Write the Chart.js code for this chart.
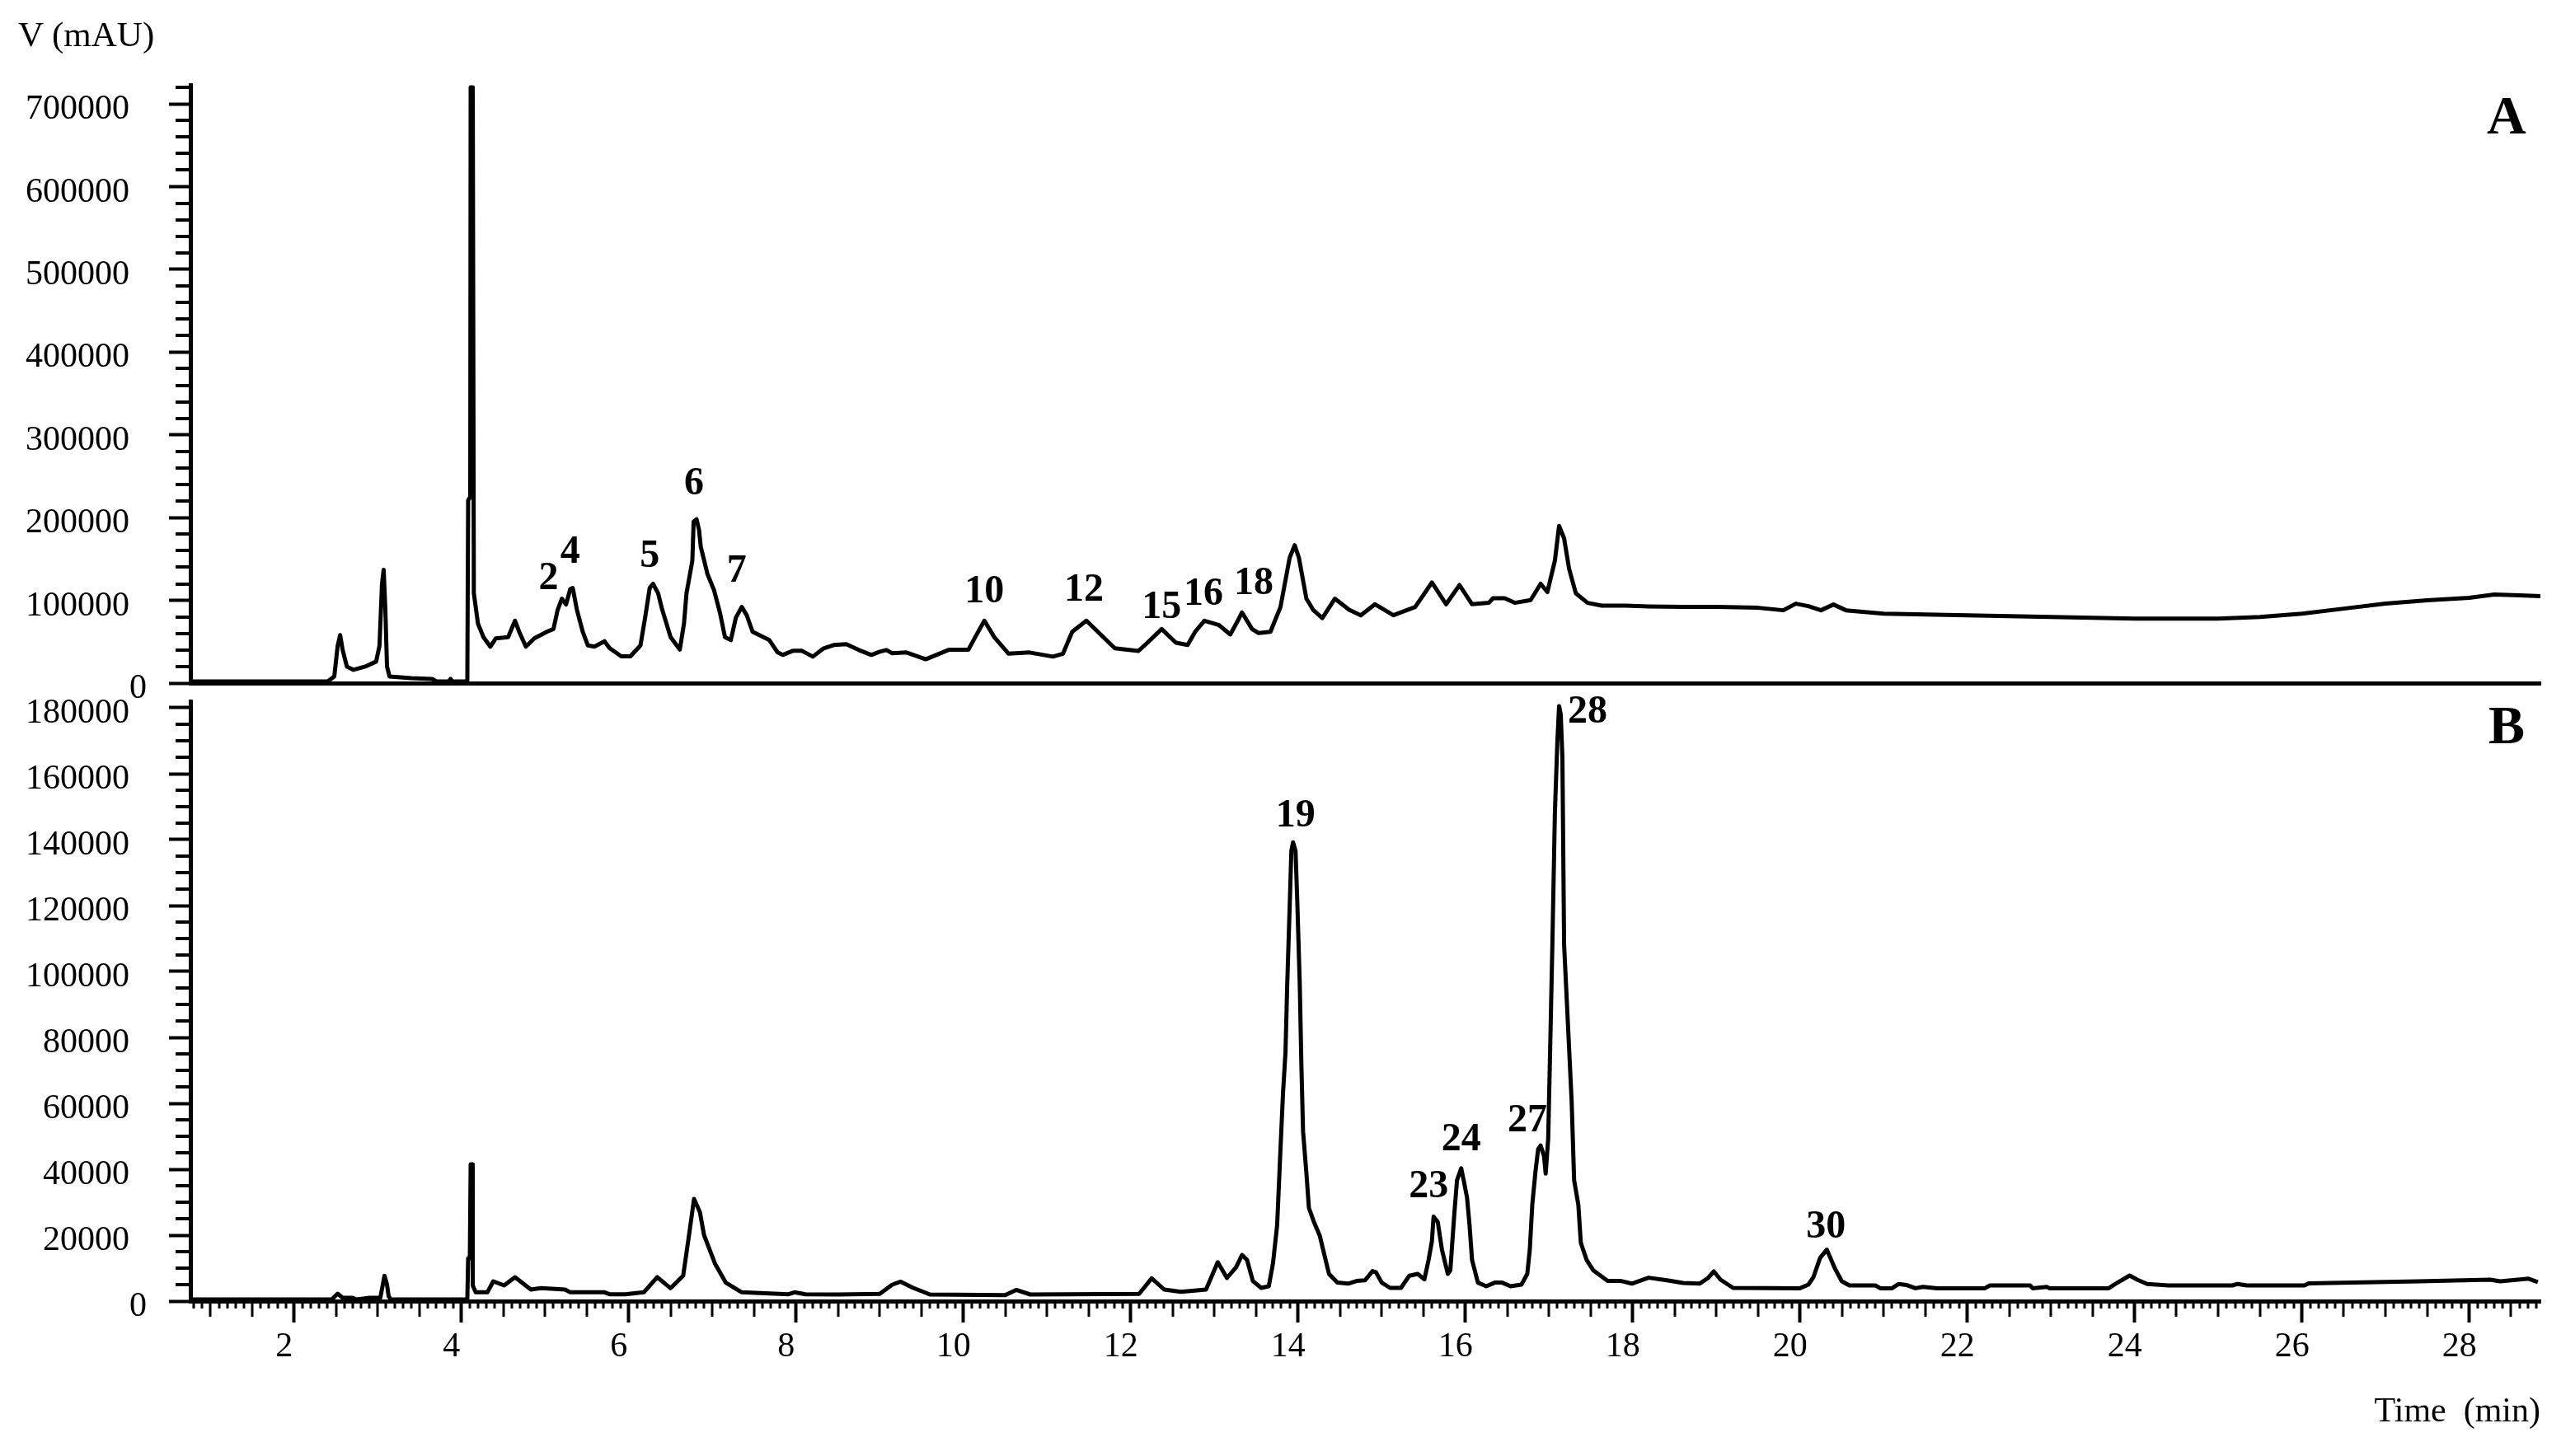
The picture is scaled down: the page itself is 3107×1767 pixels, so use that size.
<!DOCTYPE html>
<html>
<head>
<meta charset="utf-8">
<title>HPLC chromatograms A and B</title>
<script src="https://cdn.jsdelivr.net/npm/chart.js@4.4.1/dist/chart.umd.min.js"></script>
<style>
  html, body { margin: 0; padding: 0; background: #fff; }
  #page { position: relative; width: 3107px; height: 1767px; overflow: hidden; background: #fff; }
  #page canvas { position: absolute; left: 0; }
  #chartA { top: 0; }
  #chartB { top: 800px; }
  .txt { position: absolute; line-height: 1; white-space: pre; color: #000;
         font-family: "Liberation Serif", "Times New Roman", serif; }
  #yTitle { left: 22px; top: 20px; font-size: 43px; }
  .panel { font-size: 66px; font-weight: bold; }
  #panelA { left: 3017px; top: 107px; }
  #panelB { left: 3019px; top: 847px; }
</style>
</head>
<body>
<div id="page">
  <canvas id="chartA" width="3107" height="870"></canvas>
  <canvas id="chartB" width="3107" height="967"></canvas>
  <div class="txt" id="yTitle">V (mAU)</div>
  <div class="txt panel" id="panelA">A</div>
  <div class="txt panel" id="panelB">B</div>
</div>
<script>
// retention time window (min)
const timeMin = 0.76;
const timeMax = 28.85;

// trace A (upper chromatogram)
const timesA = [
  0.76, 2.40, 2.48, 2.52, 2.55, 2.58, 2.63, 2.71, 2.85, 2.98, 3.02, 3.05, 3.07, 3.09, 3.11, 3.14,
  3.40, 3.65, 3.70, 3.85, 3.87, 3.89, 4.07, 4.08, 4.105, 4.11, 4.135, 4.148, 4.197, 4.263, 4.345,
  4.41, 4.558, 4.64, 4.69, 4.77, 4.87, 5.02, 5.10, 5.15, 5.20, 5.25, 5.30, 5.33, 5.38, 5.45, 5.51,
  5.59, 5.71, 5.77, 5.91, 6.02, 6.14, 6.20, 6.25, 6.29, 6.35, 6.40, 6.50, 6.61, 6.66, 6.69, 6.76,
  6.775, 6.81, 6.84, 6.86, 6.94, 7.02, 7.09, 7.15, 7.22, 7.28, 7.35, 7.41, 7.48, 7.58, 7.68, 7.78,
  7.84, 7.96, 8.07, 8.20, 8.33, 8.45, 8.60, 8.75, 8.90, 9.00, 9.08, 9.15, 9.32, 9.55, 9.83, 10.06,
  10.14, 10.25, 10.37, 10.54, 10.79, 11.07, 11.19, 11.30, 11.47, 11.64, 11.81, 12.09, 12.20, 12.37,
  12.54, 12.68, 12.77, 12.88, 13.05, 13.19, 13.28, 13.33, 13.45, 13.53, 13.67, 13.79, 13.90, 13.96,
  14.01, 14.10, 14.18, 14.29, 14.44, 14.61, 14.75, 14.92, 15.14, 15.40, 15.60, 15.77, 15.93, 16.08,
  16.28, 16.33, 16.47, 16.59, 16.78, 16.90, 16.98, 17.07, 17.12, 17.18, 17.24, 17.32, 17.46, 17.63,
  17.91, 18.19, 18.60, 19.00, 19.50, 19.80, 19.95, 20.10, 20.25, 20.40, 20.55, 21.00, 22.00, 23.00,
  24.00, 25.00, 25.50, 26.00, 26.50, 27.00, 27.50, 28.00, 28.30, 28.60, 28.85
];
const valuesA = [
  2000, 2000, 8000, 45000, 58000, 40000, 20000, 16000, 20000, 26000, 45000, 120000, 137000, 90000, 20000, 8000,
  6000, 5000, 2000, 2000, 5000, 2000, 2000, 221000, 225000, 720000, 720000, 108600, 72000, 55500, 44000,
  54000, 55500, 75400, 62000, 44000, 54000, 62000, 65400, 88600, 102000, 95000, 113500, 115000, 88600, 62000, 45600,
  44000, 50600, 42300, 32400, 32400, 45600, 82000, 115000, 120000, 108600, 88600, 55500, 40500, 72000, 108600, 148000,
  195000, 198000, 185000, 165000, 132000, 112000, 85000, 55500, 52000, 79000, 92000, 82000, 62000, 57000, 52000, 37000,
  34000, 39000, 39000, 32000, 42000, 46000, 47000, 40000, 34000, 38000, 40000, 36000, 37000, 28800, 40400, 40400,
  55400, 75400, 55400, 35500, 37000, 32000, 35500, 62000, 75400, 58800, 42000, 38800, 48800, 65400,
  48800, 46000, 62000, 75400, 70400, 58800, 75400, 85400, 65400, 60400, 62000, 92000, 151600, 166600,
  151600, 102000, 88600, 78600, 102000, 88600, 82000, 95300, 82000, 92000, 121500, 95300, 118500, 95300,
  97000, 102600, 102600, 97000, 100300, 120000, 110000, 148000, 190000, 175000, 138000, 108600, 97000, 93600,
  93600, 92600, 92000, 92000, 91000, 88000, 96000, 93000, 88000, 95000, 88000, 84000, 82000, 80000,
  78000, 78000, 80000, 84000, 90000, 96000, 100000, 103000, 107000, 106000, 105000
];

// trace B (lower chromatogram)
const timesB = [
  0.76, 2.45, 2.52, 2.58, 2.70, 2.75, 2.90, 3.03, 3.06, 3.08, 3.11, 3.13, 3.16, 4.07, 4.08, 4.10,
  4.11, 4.13, 4.135, 4.17, 4.31, 4.38, 4.51, 4.64, 4.83, 4.95, 5.24, 5.30, 5.71, 5.77, 5.96, 6.18,
  6.34, 6.50, 6.65, 6.72, 6.78, 6.85, 6.90, 7.03, 7.16, 7.35, 7.91, 7.98, 8.11, 8.50, 9.00, 9.15,
  9.25, 9.40, 9.60, 10.50, 10.63, 10.80, 12.10, 12.25, 12.40, 12.60, 12.90, 13.04, 13.15, 13.26,
  13.33, 13.39, 13.46, 13.56, 13.65, 13.70, 13.75, 13.79, 13.82, 13.85, 13.87, 13.90, 13.92, 13.94,
  13.97, 13.99, 14.02, 14.04, 14.06, 14.10, 14.13, 14.19, 14.26, 14.31, 14.37, 14.47, 14.60, 14.70,
  14.80, 14.89, 14.93, 15.00, 15.10, 15.23, 15.33, 15.43, 15.51, 15.56, 15.60, 15.62, 15.67, 15.72,
  15.79, 15.82, 15.87, 15.90, 15.95, 15.98, 16.02, 16.05, 16.08, 16.15, 16.25, 16.35, 16.44, 16.54,
  16.67, 16.74, 16.77, 16.80, 16.84, 16.87, 16.90, 16.94, 16.96, 16.99, 17.01, 17.04, 17.07, 17.10,
  17.12, 17.14, 17.16, 17.18, 17.23, 17.27, 17.30, 17.35, 17.38, 17.45, 17.53, 17.70, 17.86, 17.99,
  18.19, 18.41, 18.60, 18.80, 18.90, 18.97, 19.05, 19.20, 20.00, 20.10, 20.16, 20.24, 20.32, 20.42,
  20.50, 20.59, 20.90, 20.96, 21.10, 21.18, 21.27, 21.38, 21.47, 21.64, 22.21, 22.27, 22.75, 22.78,
  22.95, 22.98, 23.69, 23.77, 23.94, 24.03, 24.15, 24.40, 25.17, 25.23, 25.34, 26.03, 26.08, 27.40,
  28.25, 28.37, 28.71, 28.82
];
const valuesB = [
  500, 500, 2250, 1000, 1000, 500, 1000, 1000, 5000, 7700, 5000, 1400, 500, 500, 13000, 13000,
  41500, 41500, 4750, 2670, 2670, 6000, 4750, 7250, 3500, 3920, 3500, 2670, 2670, 2080, 2080, 2670,
  7250, 3920, 7670, 20000, 31000, 27000, 20000, 11400, 5580, 2670, 2080, 2670, 2080, 2000, 2200, 5000,
  5900, 4000, 2000, 1800, 3400, 2000, 2200, 6900, 3500, 2800, 3500, 11800, 7000, 10300,
  14000, 12500, 6100, 4000, 4500, 11400, 23000, 46100, 63000, 75600, 95600, 119800, 136600, 139200,
  136600, 121900, 96600, 71400, 51400, 38750, 28250, 24000, 19800, 14550, 8250, 5600, 5300, 6100,
  6300, 9100, 8800, 5600, 4000, 4000, 7700, 8250, 6600, 12450, 18200, 25600, 24000, 15600,
  8250, 9300, 27200, 36650, 40300, 36650, 31400, 23000, 12450, 5600, 4500, 5600, 5600, 4500,
  5000, 8250, 15600, 29300, 39800, 46100, 47200, 44000, 38700, 49300, 72400, 108200, 148200, 170000,
  180500, 178000, 165000, 108200, 81900, 60800, 36650, 29300, 17700, 12450, 9300, 6100, 6100, 5300,
  7100, 6300, 5500, 5300, 7000, 9000, 6500, 4000, 3900, 5000, 7250, 13100, 15600, 9750,
  6000, 4750, 4750, 3900, 3900, 5200, 4900, 3900, 4300, 3900, 3900, 4750, 4750, 3900,
  4300, 3900, 3900, 5200, 7750, 6500, 5200, 4750, 4750, 5200, 4750, 4750, 5400, 6000,
  6500, 6000, 6800, 5750
];

// axis ranges and tick values
const yMaxA = 723000, yMinorA = 20000;
const yTicksA = [0, 100000, 200000, 300000, 400000, 500000, 600000, 700000];
const yMaxB = 182000, yMinorB = 5000;
const yTicksB = [0, 20000, 40000, 60000, 80000, 100000, 120000, 140000, 160000, 180000];
const xTicks = [2, 4, 6, 8, 10, 12, 14, 16, 18, 20, 22, 24, 26, 28];

// peak numbers: label, time, height of the label centre
const peakNamesA = ['2', '4', '5', '6', '7', '10', '12', '15', '16', '18'];
const peakTimesA = [5.04, 5.30, 6.25, 6.78, 7.29, 10.25, 11.44, 12.37, 12.87, 13.47];
const peakLevelsA = [125500, 158000, 153000, 240000, 135000, 110000, 112000, 91000, 107000, 120000];
const peakNamesB = ['19', '23', '24', '27', '28', '30'];
const peakTimesB = [13.97, 15.56, 15.95, 16.74, 17.46, 20.31];
const peakLevelsB = [147000, 34500, 48750, 54500, 178500, 22250];

const FONT = '"Liberation Serif", "Times New Roman", serif';

function toPoints(xs, ys) {
  return xs.map((x, i) => ({ x: x, y: ys[i] }));
}

function fixedTicks(values) {
  return function (scale) {
    scale.ticks = values.map(v => ({ value: v }));
  };
}

// minor tick marks that Chart.js does not draw by itself
const minorTicks = {
  id: 'minorTicks',
  afterDraw(chart, args, opts) {
    const ctx = chart.ctx;
    const xs = chart.scales.x, ys = chart.scales.y;
    ctx.save();
    ctx.strokeStyle = '#000';
    ctx.lineCap = 'butt';
    ctx.lineWidth = 4;
    const nY = Math.floor(ys.max / opts.yMinor);
    for (let k = 1; k <= nY; k++) {
      const v = k * opts.yMinor;
      if (opts.majors.includes(v)) continue;
      const p = Math.round(ys.getPixelForValue(v));
      ctx.beginPath();
      ctx.moveTo(ys.right - 18, p);
      ctx.lineTo(ys.right, p);
      ctx.stroke();
    }
    if (opts.xTicks) {
      ctx.lineWidth = 3;
      const k0 = Math.ceil(xs.min * 10), k1 = Math.floor(xs.max * 10);
      for (let k = k0; k <= k1; k++) {
        if (k % 20 === 0) continue;
        const len = (k % 5 === 0) ? 19 : 9;
        const p = Math.round(xs.getPixelForValue(k / 10));
        ctx.beginPath();
        ctx.moveTo(p, xs.top);
        ctx.lineTo(p, xs.top + len);
        ctx.stroke();
      }
    }
    ctx.restore();
  }
};

// bold peak numbers placed in data coordinates
const peakNumbers = {
  id: 'peakNumbers',
  afterDatasetsDraw(chart, args, opts) {
    const ctx = chart.ctx;
    const xs = chart.scales.x, ys = chart.scales.y;
    ctx.save();
    ctx.fillStyle = '#000';
    ctx.font = 'bold 48px ' + FONT;
    ctx.textAlign = 'center';
    ctx.textBaseline = 'middle';
    opts.names.forEach((n, i) => {
      ctx.fillText(n, xs.getPixelForValue(opts.times[i]), ys.getPixelForValue(opts.levels[i]));
    });
    ctx.restore();
  }
};

// the zero label sits a little closer to the axis in the original
function yLabel(v) {
  return v === 0 ? '0' : String(v) + '\u2002';
}

function yAxis(maxV, tickValues) {
  return {
    type: 'linear',
    min: 0,
    max: maxV,
    afterBuildTicks: fixedTicks(tickValues),
    ticks: {
      padding: 27,
      labelOffset: 7,
      color: '#000',
      font: { family: FONT, size: 42 },
      callback: yLabel
    },
    grid: { display: true, drawOnChartArea: false, drawTicks: true, tickLength: 26, tickWidth: 4, tickColor: '#000' },
    border: { display: true, width: 5, color: '#000' },
    afterFit(s) { s.width = 231; s.paddingTop = 0; s.paddingBottom = 0; }
  };
}

function lineSet(xs, ys) {
  return {
    data: toPoints(xs, ys),
    borderColor: '#000',
    borderWidth: 5,
    borderJoinStyle: 'round',
    pointRadius: 0,
    fill: false,
    tension: 0
  };
}

const common = {
  responsive: false,
  devicePixelRatio: 1,
  animation: false,
  events: [],
  parsing: false
};

new Chart(document.getElementById('chartA'), {
  type: 'line',
  data: { datasets: [lineSet(timesA, valuesA)] },
  options: Object.assign({}, common, {
    layout: { padding: { top: 103, right: 25, left: 0, bottom: 0 } },
    scales: {
      x: {
        type: 'linear', min: timeMin, max: timeMax,
        ticks: { display: false },
        grid: { display: false },
        border: { display: true, width: 5, color: '#000' },
        afterFit(s) { s.height = 41; s.paddingLeft = 0; s.paddingRight = 0; }
      },
      y: yAxis(yMaxA, yTicksA)
    },
    plugins: {
      legend: { display: false },
      tooltip: { enabled: false },
      minorTicks: { yMinor: yMinorA, majors: yTicksA, xTicks: false },
      peakNumbers: { names: peakNamesA, times: peakTimesA, levels: peakLevelsA }
    }
  }),
  plugins: [minorTicks, peakNumbers]
});

new Chart(document.getElementById('chartB'), {
  type: 'line',
  data: { datasets: [lineSet(timesB, valuesB)] },
  options: Object.assign({}, common, {
    layout: { padding: { top: 51, right: 25, left: 0, bottom: 0 } },
    scales: {
      x: {
        type: 'linear', min: timeMin, max: timeMax,
        afterBuildTicks: fixedTicks(xTicks),
        ticks: {
          padding: 5,
          labelOffset: -12,
          maxRotation: 0,
          autoSkip: false,
          color: '#000',
          font: { family: FONT, size: 42 },
          callback: v => String(v)
        },
        grid: { display: true, drawOnChartArea: false, drawTicks: true, tickLength: 26, tickWidth: 4, tickColor: '#000' },
        border: { display: true, width: 5, color: '#000' },
        title: {
          display: true, text: 'Time  (min)', align: 'end', color: '#000',
          font: { family: FONT, size: 42 }, padding: { top: 0, bottom: 28 }
        },
        afterFit(s) { s.height = 188; s.paddingLeft = 0; s.paddingRight = 0; }
      },
      y: yAxis(yMaxB, yTicksB)
    },
    plugins: {
      legend: { display: false },
      tooltip: { enabled: false },
      minorTicks: { yMinor: yMinorB, majors: yTicksB, xTicks: true },
      peakNumbers: { names: peakNamesB, times: peakTimesB, levels: peakLevelsB }
    }
  }),
  plugins: [minorTicks, peakNumbers]
});
</script>
</body>
</html>
